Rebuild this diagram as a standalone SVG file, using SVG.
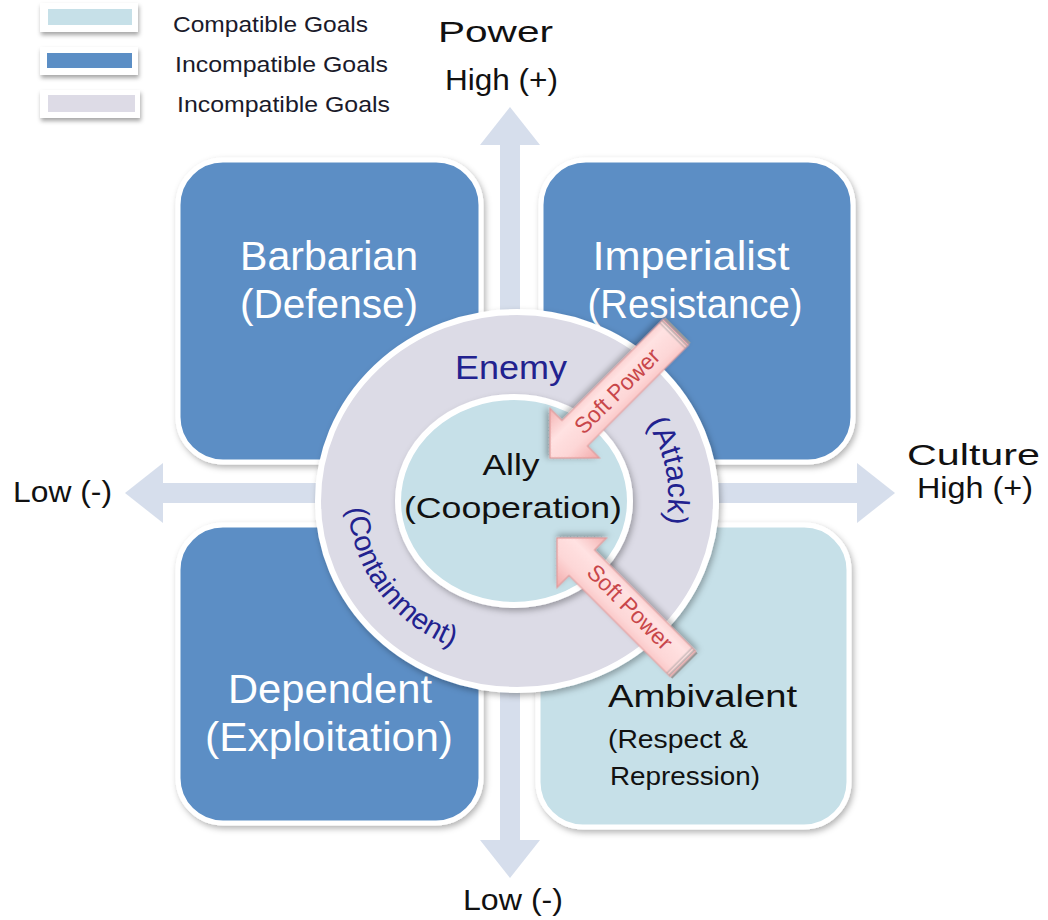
<svg xmlns="http://www.w3.org/2000/svg" width="1048" height="920" viewBox="0 0 1048 920">
<defs>
  <filter id="sh" x="-10%" y="-10%" width="125%" height="125%">
    <feDropShadow dx="2" dy="3" stdDeviation="3" flood-color="#000" flood-opacity="0.3"/>
  </filter>
  <filter id="shs" x="-20%" y="-30%" width="140%" height="170%">
    <feDropShadow dx="1" dy="3" stdDeviation="2" flood-color="#000" flood-opacity="0.35"/>
  </filter>
  <linearGradient id="pink" x1="0" y1="0" x2="0" y2="1">
    <stop offset="0" stop-color="#f2a9a9"/>
    <stop offset="0.35" stop-color="#fdd6d6"/>
    <stop offset="0.65" stop-color="#ffe2e2"/>
    <stop offset="1" stop-color="#f3b0b0"/>
  </linearGradient>
  <path id="attackPath" d="M565.7,364.6 A145,137 0 0 1 609.2,605.9" fill="none"/>
  <path id="containPath" d="M365.6,431.2 A166,157 0 0 0 530.5,657.4" fill="none"/>
  <path id="spArrow" d="M0,0 L-35,-35 L-35,-18 L-178,-18 L-178,18 L-35,18 L-35,35 Z"/>
</defs>
<style>
  text { font-family: "Liberation Sans", Arial, sans-serif; }
  .axis { fill: #d6deec; }
  .dark { fill: #5b8ec5; stroke: #fff; stroke-width: 5; }
  .light { fill: #c6e0e8; stroke: #fff; stroke-width: 5; }
  .wt { fill: #fff; font-size: 40px; text-anchor: middle; }
  .bk { fill: #111; }
  .lab { fill: #111; font-size: 30px; }
  .leg { fill: #1a1a2a; font-size: 22px; }
  .navy { fill: #22228f; }
  .sp { fill: url(#pink); stroke: #e29a9a; stroke-width: 1.2; }
  .spt { fill: #c8464a; font-size: 23px; text-anchor: middle; }
  .cap { fill: #9a9a9a; }
</style>

<g id="legend">
  <rect x="40" y="3" width="98" height="29" fill="#fff" filter="url(#shs)"/>
  <rect x="48" y="9" width="84" height="16" fill="#c6e0e8"/>
  <rect x="40" y="47" width="98" height="28" fill="#fff" filter="url(#shs)"/>
  <rect x="47" y="53" width="85" height="15" fill="#5b8ec5"/>
  <rect x="40" y="90" width="100" height="28" fill="#fff" filter="url(#shs)"/>
  <rect x="48" y="95" width="87" height="17" fill="#dddbe6"/>
  <text class="leg" x="173" y="32" textLength="195" lengthAdjust="spacingAndGlyphs">Compatible Goals</text>
  <text class="leg" x="175" y="72" textLength="213" lengthAdjust="spacingAndGlyphs">Incompatible Goals</text>
  <text class="leg" x="177" y="112" textLength="213" lengthAdjust="spacingAndGlyphs">Incompatible Goals</text>
</g>

<g id="axes">
  <rect class="axis" x="500" y="144" width="20" height="697"/>
  <polygon class="axis" points="510,107 540,145 480,145"/>
  <polygon class="axis" points="510,878 540,840 480,840"/>
  <rect class="axis" x="162" y="483" width="696" height="20"/>
  <polygon class="axis" points="125,493 163,463 163,523"/>
  <polygon class="axis" points="895,493 857,463 857,523"/>
  <text class="lab" x="438" y="42" font-size="38" textLength="115" lengthAdjust="spacingAndGlyphs">Power</text>
  <text class="lab" x="445" y="90" textLength="113" lengthAdjust="spacingAndGlyphs">High (+)</text>
  <text class="lab" x="907" y="465" font-size="38" textLength="133" lengthAdjust="spacingAndGlyphs">Culture</text>
  <text class="lab" x="917" y="498" textLength="116" lengthAdjust="spacingAndGlyphs">High (+)</text>
  <text class="lab" x="13" y="502" textLength="99" lengthAdjust="spacingAndGlyphs">Low (-)</text>
  <text class="lab" x="463" y="910" textLength="100" lengthAdjust="spacingAndGlyphs">Low (-)</text>
</g>

<g id="barbarian">
  <rect class="dark" x="178" y="160" width="303" height="302" rx="45" filter="url(#sh)"/>
  <text class="wt" x="329" y="270" textLength="178" lengthAdjust="spacingAndGlyphs">Barbarian</text>
  <text class="wt" x="329" y="318" textLength="178" lengthAdjust="spacingAndGlyphs">(Defense)</text>
</g>
<g id="imperialist">
  <rect class="dark" x="541" y="160" width="312" height="302" rx="45" filter="url(#sh)"/>
  <text class="wt" x="691" y="270" textLength="197" lengthAdjust="spacingAndGlyphs">Imperialist</text>
  <text class="wt" x="695" y="318" textLength="215" lengthAdjust="spacingAndGlyphs">(Resistance)</text>
</g>
<g id="dependent">
  <rect class="dark" x="178" y="525" width="303" height="298" rx="45" filter="url(#sh)"/>
  <text class="wt" x="330" y="703" textLength="204" lengthAdjust="spacingAndGlyphs">Dependent</text>
  <text class="wt" x="329" y="751" textLength="248" lengthAdjust="spacingAndGlyphs">(Exploitation)</text>
</g>
<g id="ambivalent">
  <rect class="light" x="538" y="525" width="311" height="302" rx="45" filter="url(#sh)"/>
  <text class="bk" x="608" y="707" font-size="32" textLength="189" lengthAdjust="spacingAndGlyphs">Ambivalent</text>
  <text class="bk" x="608" y="748" font-size="25" textLength="140" lengthAdjust="spacingAndGlyphs">(Respect &amp;</text>
  <text class="bk" x="610" y="785" font-size="25" textLength="150" lengthAdjust="spacingAndGlyphs">Repression)</text>
</g>

<g id="enemy">
  <ellipse cx="517" cy="501" rx="199" ry="189" fill="#dcdbe6" stroke="#fff" stroke-width="6" filter="url(#sh)"/>
  <text class="navy" x="511" y="379" font-size="33" text-anchor="middle" textLength="112" lengthAdjust="spacingAndGlyphs">Enemy</text>
  <text class="navy" font-size="30"><textPath href="#attackPath" startOffset="50%" text-anchor="middle">(Attack)</textPath></text>
  <text class="navy" font-size="29"><textPath href="#containPath" startOffset="50%" text-anchor="middle">(Containment)</textPath></text>
</g>

<g id="ally">
  <ellipse cx="514" cy="501" rx="116" ry="104" fill="#c6e0e8" stroke="#fff" stroke-width="6" filter="url(#sh)"/>
  <text class="bk" x="511" y="475" font-size="30" text-anchor="middle" textLength="57" lengthAdjust="spacingAndGlyphs">Ally</text>
  <text class="bk" x="513" y="518" font-size="30" text-anchor="middle" textLength="218" lengthAdjust="spacingAndGlyphs">(Cooperation)</text>
</g>

<g id="connectors">
  <g transform="translate(550,458) rotate(135)" filter="url(#sh)">
    <use href="#spArrow" class="sp"/>
    <rect class="cap" x="-181" y="-18" width="2" height="36"/>
    <rect class="cap" x="-177" y="-18" width="1.5" height="36" opacity="0.7"/>
    <rect class="cap" x="-174" y="-18" width="1.5" height="36" opacity="0.5"/>
  </g>
  <text class="spt" transform="translate(617,391) rotate(-45)" y="8" textLength="110" lengthAdjust="spacingAndGlyphs">Soft Power</text>
  <g transform="translate(557,538) rotate(225)" filter="url(#sh)">
    <use href="#spArrow" class="sp"/>
    <rect class="cap" x="-181" y="-18" width="2" height="36"/>
    <rect class="cap" x="-177" y="-18" width="1.5" height="36" opacity="0.7"/>
    <rect class="cap" x="-174" y="-18" width="1.5" height="36" opacity="0.5"/>
  </g>
  <text class="spt" transform="translate(630,607) rotate(45)" y="8" textLength="110" lengthAdjust="spacingAndGlyphs">Soft Power</text>
</g>
</svg>
